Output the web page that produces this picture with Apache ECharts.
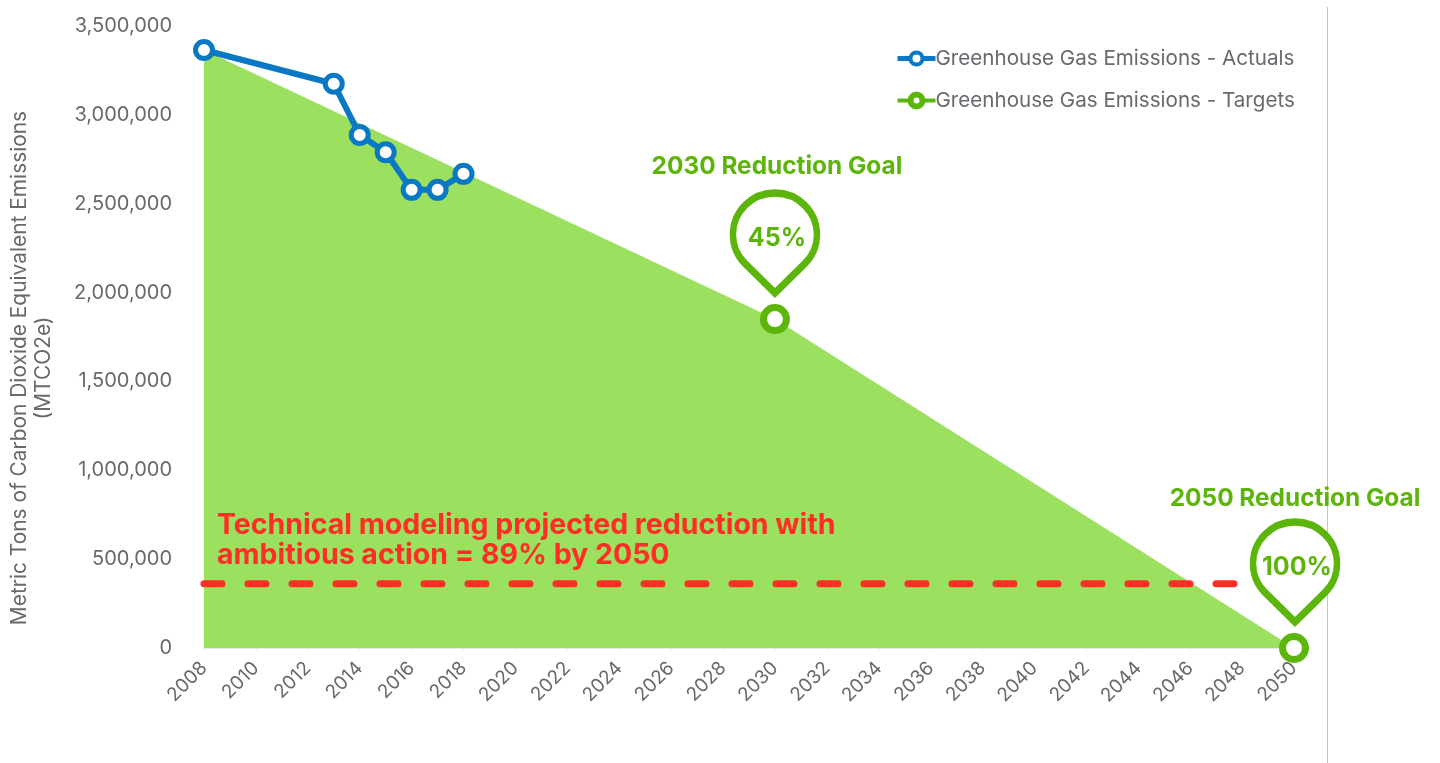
<!DOCTYPE html>
<html><head><meta charset="utf-8">
<style>html,body{margin:0;padding:0;background:#fff}#c{width:1440px;height:763px}</style>
<script src="https://cdn.jsdelivr.net/npm/echarts@6/dist/echarts.min.js"></script>
</head><body><div id="c"></div>
<script>
const actualsName = 'Greenhouse Gas Emissions - Actuals';
const targetsName = 'Greenhouse Gas Emissions - Targets';
const actualYears = [2008, 2013, 2014, 2015, 2016, 2017, 2018];
const actualValues = [3365000, 3175000, 2887000, 2790000, 2578000, 2578000, 2668000];
const targetYears = [2008, 2030, 2050];
const targetValues = [3365000, 1851000, 0];
const modeledYears = [2008, 2048];
const modeledValues = [362000, 362000];
const goalYears = [2030, 2050];
const goalValues = [1851000, 0];
const goalPercents = ['45%', '100%'];
const goalTitles = ['2030 Reduction Goal', '2050 Reduction Goal'];
const noteLines = 'Technical modeling projected reduction with\nambitious action = 89% by 2050';

const FONT = 'Inter';
const GREEN = '#5cb50a', BLUE = '#0a78c4', RED = '#ff2d25', AREA = '#9be05e', GREY = '#666a6e';
const PIN = 'path://M45 103 L16 74 A41 41 0 1 1 74 74 Z';
const zip = (a, b) => a.map((v, i) => [v, b[i]]);

const pinMarks = goalYears.map((y, i) => ({
  coord: [y, goalValues[i]], symbol: PIN, symbolSize: [84, 100], symbolOffset: [i ? 1 : 0, -76],
  itemStyle: {color: '#fff', borderColor: GREEN, borderWidth: 7},
  label: {show: true, position: 'inside', offset: [2, -5], formatter: goalPercents[i],
          color: GREEN, fontFamily: FONT, fontWeight: 700, fontSize: 25}
}));
const titleMarks = goalYears.map((y, i) => ({
  coord: [y, goalValues[i]], symbol: 'circle', symbolSize: 1, itemStyle: {color: 'transparent'},
  label: {show: true, position: 'inside', offset: [i ? 1 : 2, i ? -149 : -152], formatter: goalTitles[i],
          color: GREEN, fontFamily: FONT, fontWeight: 700, fontSize: 24.4}
}));

const chart = echarts.init(document.getElementById('c'), null, {renderer: 'canvas'});
chart.setOption({
  animation: false,
  backgroundColor: '#fff',
  grid: {left: 204, right: 146, top: 26, bottom: 115, containLabel: false, outerBoundsMode: 'none'},
  xAxis: {
    type: 'value', min: 2008, max: 2050, interval: 2,
    splitLine: {show: false},
    axisLine: {show: true, lineStyle: {color: '#e6ebf1', width: 1}},
    axisTick: {show: true, length: 3, lineStyle: {color: '#e6ebf1'}},
    axisLabel: {rotate: 45, color: GREY, fontFamily: FONT, fontSize: 19, margin: 17, formatter: v => String(v), hideOverlap: false}
  },
  yAxis: {
    type: 'value', min: 0, max: 3500000, interval: 500000,
    name: 'Metric Tons of Carbon Dioxide Equivalent Emissions\n(MTCO2e)',
    nameLocation: 'middle', nameGap: 148, nameRotate: 90,
    nameTextStyle: {color: GREY, fontFamily: FONT, fontSize: 20.9, lineHeight: 24, padding: [0, 62, 0, 0]},
    splitLine: {show: false}, axisLine: {show: false}, axisTick: {show: false},
    axisLabel: {color: GREY, fontFamily: FONT, fontSize: 20, margin: 32, padding: [2, 0, 0, 0]}
  },
  legend: {
    left: 890, top: 43, orient: 'vertical', itemGap: 21, itemWidth: 38, itemHeight: 15,
    textStyle: {color: GREY, fontFamily: FONT, fontSize: 20.6, padding: [0, 0, 0, -5]},
    data: [
      {name: actualsName, lineStyle: {color: BLUE, width: 5}, itemStyle: {color: '#fff', borderColor: BLUE, borderWidth: 4}},
      {name: targetsName, lineStyle: {color: GREEN, width: 4}, itemStyle: {color: '#fff', borderColor: GREEN, borderWidth: 6}}
    ]
  },
  series: [
    {
      name: targetsName, type: 'line', z: 2,
      data: zip(targetYears, targetValues).map((d, i) => i === 0 ? {value: d, symbol: 'none'} : {value: d}),
      symbol: 'circle', symbolSize: 23,
      showSymbol: true,
      lineStyle: {width: 0, color: GREEN},
      itemStyle: {color: '#fff', borderColor: GREEN, borderWidth: 7},
      areaStyle: {color: AREA, opacity: 1},
      markPoint: {data: pinMarks.concat(titleMarks), silent: true}
    },
    {
      name: 'Projected', type: 'line', z: 3, symbol: 'none',
      data: zip(modeledYears, modeledValues),
      lineStyle: {color: RED, width: 7, type: [18, 26], cap: 'round'}
    },
    {
      name: actualsName, type: 'line', z: 4,
      data: zip(actualYears, actualValues),
      symbol: 'circle', symbolSize: 17,
      lineStyle: {color: BLUE, width: 6},
      itemStyle: {color: '#fff', borderColor: BLUE, borderWidth: 5}
    }
  ],
  graphic: [
    {type: 'line', silent: true, z: 0, shape: {x1: 1327.5, y1: 7, x2: 1327.5, y2: 763}, style: {stroke: '#c4c6c8', lineWidth: 1}},
    {type: 'text', silent: true, z: 10, left: 217, top: 510,
     style: {text: noteLines, fill: RED, font: '700 28.5px ' + FONT, lineHeight: 30}}
  ]
});
</script></body></html>
